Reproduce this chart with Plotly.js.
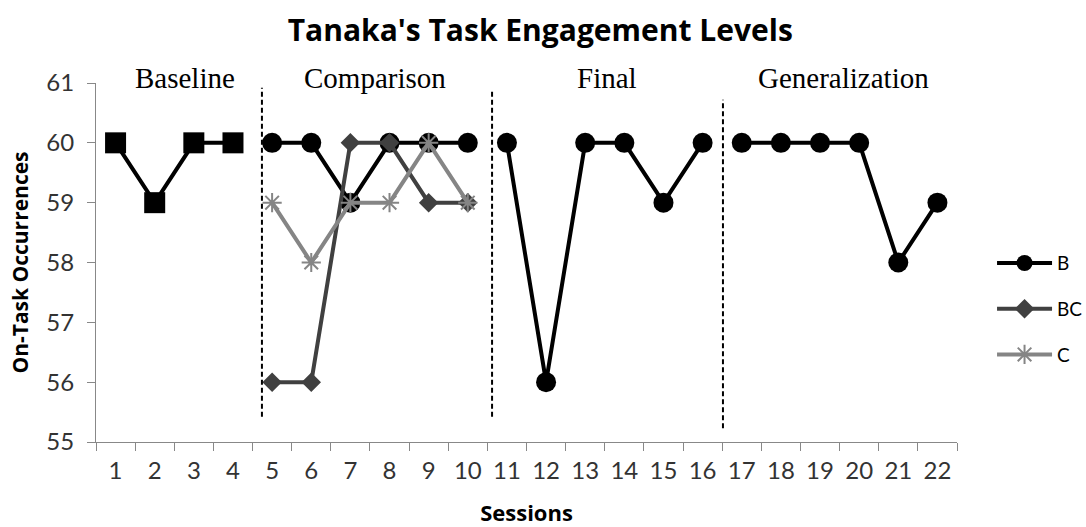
<!DOCTYPE html>
<html>
<head>
<meta charset="utf-8">
<script src="https://cdn.plot.ly/plotly-3.0.1.min.js"></script>
<style>
  html, body { margin: 0; padding: 0; background: #fff; }
  #chart { width: 1086px; height: 527px; }
</style>
</head>
<body>
<div id="chart"></div>
<script>
// ---- Data ----
const baselineSessions = [1, 2, 3, 4];
const baselineValues = [60, 59, 60, 60];

const comparisonSessions = [5, 6, 7, 8, 9, 10];
const comparisonB = [60, 60, 59, 60, 60, 60];
const comparisonBC = [56, 56, 60, 60, 59, 59];
const comparisonC = [59, 58, 59, 59, 60, 59];

const finalSessions = [11, 12, 13, 14, 15, 16];
const finalB = [60, 56, 60, 60, 59, 60];

const generalizationSessions = [17, 18, 19, 20, 21, 22];
const generalizationB = [60, 60, 60, 60, 58, 59];

const tickValues = [1,2,3,4,5,6,7,8,9,10,11,12,13,14,15,16,17,18,19,20,21,22];
const phaseLabels = ["Baseline", "Comparison", "Final", "Generalization"];
const phaseLabelX = [2.77, 7.63, 13.56, 19.59];
const phaseChangeX = [4.74, 10.62, 16.52];

// ---- Styles ----
const colB = "#000000", colBC = "#404040", colC = "#858585";
const bLine = {color: colB, width: 4};
const bMarker = {symbol: "circle", size: 20, color: colB};

const traces = [
  {x: baselineSessions, y: baselineValues, mode: "lines+markers", showlegend: false,
   line: {color: colB, width: 4}, marker: {symbol: "square", size: 21, color: colB}},
  {x: comparisonSessions, y: comparisonB, name: "B", legendgroup: "B", mode: "lines+markers",
   line: bLine, marker: bMarker},
  {x: finalSessions, y: finalB, name: "B", legendgroup: "B", showlegend: false, mode: "lines+markers",
   line: bLine, marker: bMarker},
  {x: generalizationSessions, y: generalizationB, name: "B", legendgroup: "B", showlegend: false, mode: "lines+markers",
   line: bLine, marker: bMarker},
  {x: comparisonSessions, y: comparisonBC, name: "BC", legendgroup: "BC", mode: "lines+markers",
   line: {color: colBC, width: 4}, marker: {symbol: "diamond", size: 15, color: colBC}},
  {x: comparisonSessions, y: comparisonC, name: "C", legendgroup: "C", mode: "lines+markers",
   line: {color: colC, width: 4}, marker: {symbol: "asterisk-open", size: 16, color: colC, line: {color: colC, width: 2}}}
];

const dashTop = [60.92, 60.90, 60.72];
const dashBottom = [55.42, 55.42, 55.23];
const shapes = phaseChangeX.map((xv, i) => ({
  type: "line", xref: "x", yref: "y", x0: xv, x1: xv, y0: dashBottom[i], y1: dashTop[i],
  line: {color: "#000", width: 2, dash: "5px,3px"}
}));

const annotations = phaseLabels.map((t, i) => ({
  text: t, x: phaseLabelX[i], y: 1.014, xref: "x", yref: "paper", showarrow: false,
  xanchor: "center", yanchor: "middle",
  font: {family: "Liberation Serif, Times New Roman, serif", size: 29, color: "#000"}
}));

// x-axis tick marks sit between categories (category-axis style)
const xTickMarks = [];
for (let k = 0; k <= tickValues.length; k++) {
  xTickMarks.push(tickValues[0] - 0.5 + k);
}

const layout = {
  width: 1086, height: 527,
  margin: {l: 96, r: 129, t: 83, b: 85, autoexpand: false},
  paper_bgcolor: "#fff", plot_bgcolor: "#fff",
  title: {text: "<b>Tanaka's Task Engagement Levels</b>", x: 0.4975, xanchor: "center", y: 0.943, yanchor: "middle",
          font: {family: "Open Sans, sans-serif", size: 30, color: "#000"}},
  xaxis: {
    range: [0.5, 22.5], tickvals: tickValues, ticktext: tickValues.map(String),
    showgrid: false, zeroline: false, showline: true, linecolor: "#888", linewidth: 1,
    ticks: "", ticklabelstandoff: 7, tickfont: {family: "Lato, sans-serif", size: 24, color: "#333"},
    title: {text: "<b>Sessions</b>", font: {family: "Open Sans, sans-serif", size: 22, color: "#000"}, standoff: 22},
    automargin: false, fixedrange: true
  },
  xaxis2: {
    overlaying: "x", range: [0.5, 22.5], tickvals: xTickMarks, ticks: "outside", ticklen: 8, tickcolor: "#888",
    showticklabels: false, showgrid: false, zeroline: false, showline: false, anchor: "y", side: "bottom", fixedrange: true
  },
  yaxis: {
    range: [55, 61], dtick: 1, tick0: 55,
    showgrid: false, zeroline: false, showline: true, linecolor: "#888", linewidth: 1,
    ticks: "outside", ticklen: 8, tickcolor: "#888", ticklabelstandoff: 8,
    tickfont: {family: "Lato, sans-serif", size: 24, color: "#333"},
    title: {text: "<b>On-Task Occurrences</b>", font: {family: "Open Sans, sans-serif", size: 21, color: "#000"}, standoff: 12},
    automargin: false, fixedrange: true
  },
  legend: {x: 1.0407, xanchor: "left", y: 0.37, yanchor: "middle", traceorder: "grouped", tracegroupgap: 18,
           itemwidth: 55, font: {family: "Lato, sans-serif", size: 19, color: "#000"}, bgcolor: "rgba(0,0,0,0)"},
  shapes: shapes,
  annotations: annotations,
  showlegend: true
};

traces.push({x: [0.5], y: [null], xaxis: "x2", showlegend: false, hoverinfo: "skip", mode: "markers"});

Plotly.newPlot("chart", traces, layout, {displayModeBar: false, staticPlot: true});
</script>
</body>
</html>
